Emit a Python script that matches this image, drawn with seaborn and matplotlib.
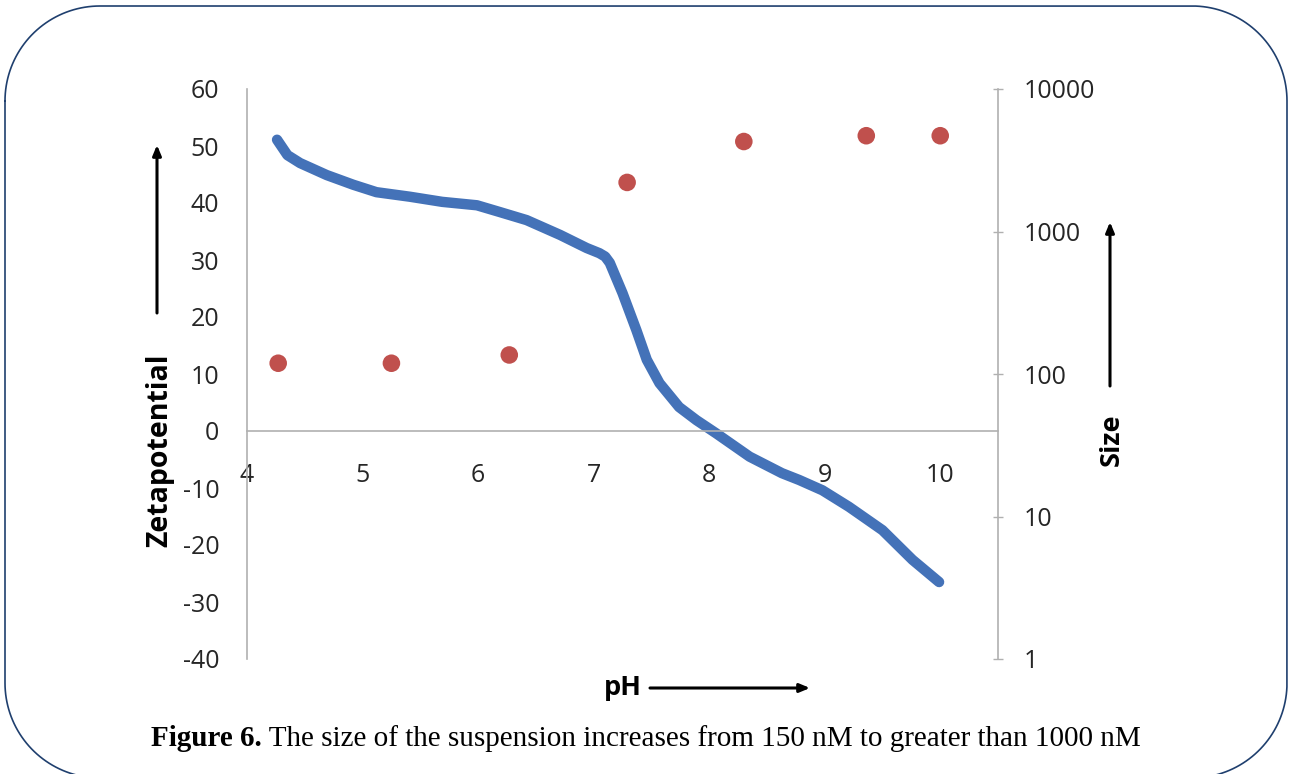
import numpy as np
import pandas as pd
import matplotlib
matplotlib.use("Agg")
import matplotlib.pyplot as plt
import seaborn as sns
from matplotlib.ticker import FixedLocator, NullLocator

# ---------------- data ----------------
ph_zeta = [4.26, 4.35, 4.46, 4.69, 4.92, 5.12, 5.41, 5.69, 5.99, 6.19, 6.42, 6.71,
           6.94, 7.05, 7.10, 7.14, 7.25, 7.37, 7.46, 7.57, 7.74, 7.89, 8.06, 8.35,
           8.63, 8.78, 8.98, 9.21, 9.50, 9.76, 9.99]
zeta = [51.1, 48.4, 47.0, 44.9, 43.2, 41.9, 41.1, 40.2, 39.6, 38.4, 37.0, 34.4,
        32.1, 31.2, 30.6, 29.5, 24.2, 17.7, 12.5, 8.4, 4.2, 1.9, -0.4, -4.5,
        -7.4, -8.6, -10.4, -13.3, -17.4, -22.6, -26.5]
ph_size = [4.27, 5.25, 6.27, 7.29, 8.30, 9.36, 10.0]
size = [119, 119, 136, 2210, 4280, 4700, 4700]

x_ticks = [4, 5, 6, 7, 8, 9, 10]
left_ticks = [-40, -30, -20, -10, 0, 10, 20, 30, 40, 50, 60]
right_ticks = [1, 10, 100, 1000, 10000]

caption_bold = "Figure 6."
caption_rest = " The size of the suspension increases from 150 nM to greater than 1000 nM"

df_z = pd.DataFrame({"pH": ph_zeta, "zeta": zeta})
df_s = pd.DataFrame({"pH": ph_size, "size": size})

# ---------------- style ----------------
sns.set_style("white")
plt.rcParams["font.family"] = ["Open Sans", "DejaVu Sans"]

W, H = 1290, 774
fig = plt.figure(figsize=(W / 100, H / 100), dpi=100)
fig.patch.set_facecolor("white")

def fx(px):
    return px / W

def fy(py):
    return 1 - py / H

ax_l, ax_r, ax_t, ax_b = 247, 998, 89, 659
ax = fig.add_axes([fx(ax_l), fy(ax_b), fx(ax_r - ax_l), (ax_b - ax_t) / H])
ax.set_facecolor("none")

BLUE = "#4472B8"
RED = "#C0504D"
GRAY = "#B0B0B0"
TXT = "#262626"
TICK_FS = 18

sns.lineplot(data=df_z, x="pH", y="zeta", ax=ax, color=BLUE, linewidth=7.5,
             solid_capstyle="round", solid_joinstyle="round", sort=False)
ax.set_xlim(4, 10.5)
ax.set_ylim(-40, 60)
ax.xaxis.set_major_locator(FixedLocator(x_ticks))
ax.yaxis.set_major_locator(FixedLocator(left_ticks))
ax.set_xticklabels([str(v) for v in x_ticks])
ax.set_yticklabels([str(v) for v in left_ticks])
ax.set_xlabel("")
ax.set_ylabel("")
for s in ["top", "right"]:
    ax.spines[s].set_visible(False)
ax.spines["bottom"].set_position(("data", 0))
ax.spines["bottom"].set_color(GRAY)
ax.spines["left"].set_color(GRAY)
ax.spines["bottom"].set_linewidth(1.2)
ax.spines["left"].set_linewidth(1.2)
ax.tick_params(axis="x", length=0, pad=23, labelsize=TICK_FS, labelcolor=TXT)
ax.tick_params(axis="y", length=0, pad=20, labelsize=TICK_FS, labelcolor=TXT)

ax2 = ax.twinx()
ax2.set_facecolor("none")
sns.scatterplot(data=df_s, x="pH", y="size", ax=ax2, color=RED, s=160,
                edgecolor="none", zorder=5)
ax2.set_yscale("log")
ax2.set_ylim(1, 10000)
ax2.yaxis.set_major_locator(FixedLocator(right_ticks))
ax2.yaxis.set_minor_locator(NullLocator())
ax2.set_yticklabels([str(v) for v in right_ticks])
ax2.set_ylabel("")
ax2.set_xlabel("")
for s in ["top", "left", "bottom"]:
    ax2.spines[s].set_visible(False)
ax2.spines["right"].set_color(GRAY)
ax2.spines["right"].set_linewidth(1.2)
ax2.tick_params(axis="y", direction="inout", length=7, width=1, color=GRAY,
                pad=15, labelsize=TICK_FS, labelcolor=TXT)
ax.set_xlim(4, 10.5)

# ---------------- overlay (pixel coordinates) ----------------
ov = fig.add_axes([0, 0, 1, 1])
ov.set_xlim(0, W)
ov.set_ylim(H, 0)
ov.axis("off")
ov.set_facecolor("none")

# rounded frame (pixel coordinates), bottom edge just off the canvas
x0, y0, x1, y1, rad = 5, 6, 1287, 778, 95
def arc(cx, cy, a0, a1):
    t = np.radians(np.linspace(a0, a1, 40))
    return cx + rad * np.cos(t), cy + rad * np.sin(t)
segs = [arc(x0 + rad, y0 + rad, 180, 270),   # top-left
        arc(x1 - rad, y0 + rad, 270, 360),   # top-right
        arc(x1 - rad, y1 - rad, 0, 90),      # bottom-right
        arc(x0 + rad, y1 - rad, 90, 180)]    # bottom-left
fxs = np.concatenate([s[0] for s in segs] + [segs[0][0][:1]])
fys = np.concatenate([s[1] for s in segs] + [segs[0][1][:1]])
ov.plot(fxs, fys, color="#1F3F6E", lw=1.2, clip_on=False)

# axis titles
ov.text(160, 450, "Zetapotential", rotation=90, ha="center", va="center",
        fontsize=20.5, fontweight="bold", color="black")
ov.text(1112, 440, "Size", rotation=90, ha="center", va="center",
        fontsize=19.5, fontweight="bold", color="black")
ov.text(623, 688, "pH", ha="center", va="center",
        fontsize=19.5, fontweight="bold", color="black")

arrow_kw = dict(arrowstyle="-|>,head_length=0.6,head_width=0.25", color="black",
                lw=2.2, shrinkA=0, shrinkB=0)
ov.annotate("", xy=(157, 145), xytext=(157, 313), arrowprops=arrow_kw)
ov.annotate("", xy=(1110, 222), xytext=(1110, 386), arrowprops=arrow_kw)
ov.annotate("", xy=(810, 688), xytext=(650, 688), arrowprops=arrow_kw)

# caption (bold + regular)
fig.canvas.draw()
r = fig.canvas.get_renderer()
cap_fs = 21
tb = ov.text(0, 746, caption_bold, family=["Liberation Serif"], fontweight="bold",
             fontsize=cap_fs, ha="left", va="baseline", color="black")
tr = ov.text(0, 746, caption_rest, family=["Liberation Serif"],
             fontsize=cap_fs, ha="left", va="baseline", color="black")
wb = tb.get_window_extent(r).width
wr = tr.get_window_extent(r).width
start = 645.5 - (wb + wr) / 2
tb.set_x(start)
tr.set_x(start + wb)

fig.savefig("out.png", dpi=100, facecolor="white")
